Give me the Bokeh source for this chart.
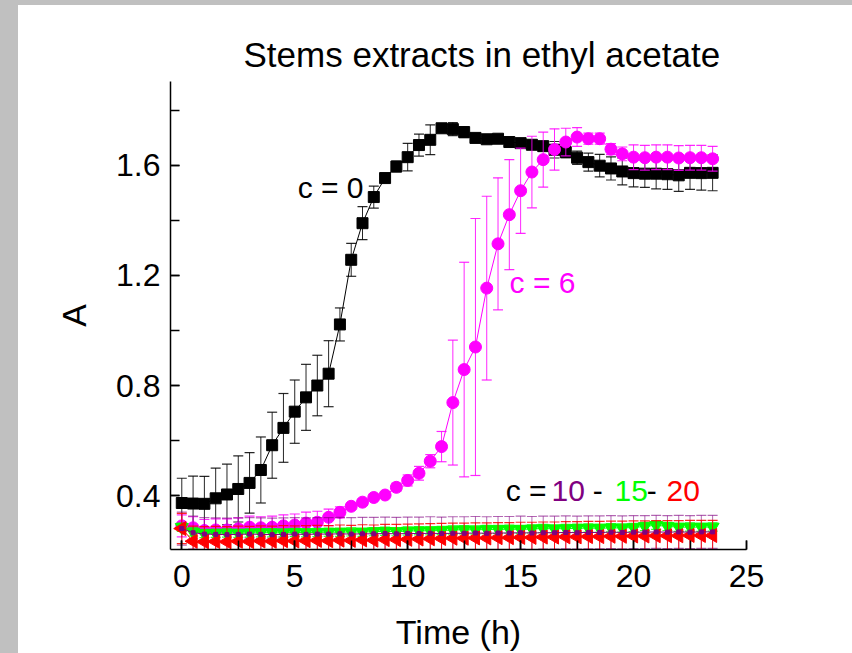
import numpy as np
from bokeh.plotting import figure
from bokeh.models import Range1d, SingleIntervalTicker, Label, Div
from bokeh.layouts import row, column
from bokeh.embed import file_html
from bokeh.resources import INLINE

time_h = [0, 0.5, 1, 1.5, 2, 2.5, 3, 3.5, 4, 4.5, 5, 5.5, 6, 6.5, 7, 7.5, 8, 8.5,
          9, 9.5, 10, 10.5, 11, 11.5, 12, 12.5, 13, 13.5, 14, 14.5, 15, 15.5, 16,
          16.5, 17, 17.5, 18, 18.5, 19, 19.5, 20, 20.5, 21, 21.5, 22, 22.5, 23, 23.5]

c0 = [0.373, 0.371, 0.370, 0.390, 0.404, 0.424, 0.446, 0.493, 0.583, 0.646, 0.705, 0.757,
      0.800, 0.843, 1.022, 1.257, 1.390, 1.485, 1.554, 1.596, 1.630, 1.674, 1.693, 1.735,
      1.732, 1.721, 1.700, 1.695, 1.697, 1.685, 1.681, 1.675, 1.670, 1.657, 1.648, 1.628,
      1.612, 1.599, 1.589, 1.578, 1.572, 1.570, 1.570, 1.568, 1.564, 1.573, 1.572, 1.573]
c0_err = [0.09, 0.10, 0.10, 0.11, 0.11, 0.12, 0.11, 0.12, 0.12, 0.125, 0.115, 0.12,
          0.11, 0.12, 0.06, 0.06, 0.06, 0.04, 0.01, 0.02, 0.05, 0.04, 0.054, 0.01,
          0.024, 0.02, 0.01, 0.01, 0.01, 0.01, 0.012, 0.01, 0.01, 0.03, 0.02, 0.024,
          0.033, 0.041, 0.042, 0.049, 0.05, 0.05, 0.055, 0.055, 0.058, 0.06, 0.062, 0.065]

c6 = [0.290, 0.283, 0.273, 0.275, 0.275, 0.279, 0.285, 0.283, 0.285, 0.290, 0.293, 0.300,
      0.303, 0.321, 0.339, 0.361, 0.376, 0.393, 0.402, 0.430, 0.455, 0.481, 0.525, 0.578,
      0.738, 0.858, 0.940, 1.154, 1.315, 1.421, 1.508, 1.576, 1.621, 1.658, 1.685, 1.703,
      1.697, 1.697, 1.659, 1.642, 1.630, 1.628, 1.630, 1.630, 1.627, 1.628, 1.628, 1.624]
c6_err = [0.04, 0.04, 0.04, 0.04, 0.04, 0.04, 0.04, 0.04, 0.04, 0.04, 0.04, 0.04,
          0.04, 0.03, 0.02, 0.01, 0.01, 0.01, 0.01, 0.015, 0.02, 0.025, 0.024, 0.055,
          0.227, 0.39, 0.467, 0.334, 0.24, 0.2, 0.155, 0.13, 0.1, 0.075, 0.05, 0.034,
          0.02, 0.02, 0.02, 0.025, 0.045, 0.045, 0.045, 0.045, 0.045, 0.045, 0.045, 0.045]

c10 = [0.280, 0.265, 0.260, 0.259, 0.258, 0.259, 0.260, 0.259, 0.258, 0.259, 0.260, 0.259,
       0.260, 0.260, 0.261, 0.260, 0.261, 0.261, 0.262, 0.261, 0.262, 0.262, 0.263, 0.262,
       0.263, 0.263, 0.264, 0.263, 0.264, 0.264, 0.265, 0.264, 0.265, 0.265, 0.266, 0.265,
       0.266, 0.266, 0.267, 0.266, 0.267, 0.267, 0.268, 0.267, 0.268, 0.267, 0.268, 0.268]
c10_err = [0.06] * 48

c15 = [0.285, 0.268, 0.262, 0.263, 0.264, 0.263, 0.264, 0.265, 0.265, 0.264, 0.266, 0.265,
       0.266, 0.267, 0.267, 0.268, 0.267, 0.269, 0.270, 0.269, 0.271, 0.272, 0.272, 0.273,
       0.275, 0.276, 0.275, 0.277, 0.277, 0.278, 0.277, 0.279, 0.280, 0.279, 0.280, 0.281,
       0.282, 0.281, 0.283, 0.282, 0.284, 0.288, 0.292, 0.288, 0.285, 0.286, 0.285, 0.286]
c15_err = [0.015] * 48

c20 = [0.280, 0.234, 0.232, 0.233, 0.232, 0.234, 0.233, 0.235, 0.234, 0.236, 0.235, 0.236,
       0.237, 0.236, 0.238, 0.237, 0.239, 0.238, 0.240, 0.240, 0.241, 0.242, 0.243, 0.244,
       0.245, 0.245, 0.246, 0.246, 0.247, 0.247, 0.248, 0.248, 0.249, 0.249, 0.250, 0.250,
       0.251, 0.251, 0.252, 0.252, 0.253, 0.253, 0.254, 0.254, 0.254, 0.255, 0.255, 0.255]
c20_err = [0.055] * 48

TITLE = "Stems extracts in ethyl acetate"
X_LABEL = "Time (h)"
Y_LABEL = "A"

FONT = "Liberation Sans"

p = figure(width=834, height=648, x_range=Range1d(-0.5, 25), y_range=Range1d(0.204, 1.905),
           output_backend="svg", toolbar_location=None,
           min_border_left=152, min_border_right=106, min_border_top=76, min_border_bottom=104)
p.background_fill_color = "white"
p.border_fill_color = "white"
p.outline_line_color = None
p.grid.visible = False

p.title.text = TITLE
p.title.text_font = FONT
p.title.text_font_size = "35px"
p.title.text_font_style = "normal"
p.title.text_color = "black"
p.title.align = "left"
p.title.offset = 73
p.title.standoff = 16

for ax in (p.xaxis[0], p.yaxis[0]):
    ax.axis_line_width = 1.5
    ax.axis_line_color = "black"
    ax.major_tick_in = 9
    ax.major_tick_out = 0
    ax.minor_tick_in = 9
    ax.minor_tick_out = 0
    ax.major_tick_line_width = 1.5
    ax.minor_tick_line_width = 1.5
    ax.major_tick_line_color = "black"
    ax.minor_tick_line_color = "black"
    ax.major_label_text_font = FONT
    ax.major_label_text_font_size = "32px"
    ax.major_label_text_color = "black"
    ax.axis_label_text_font = FONT
    ax.axis_label_text_font_size = "34px"
    ax.axis_label_text_font_style = "normal"
    ax.axis_label_text_color = "black"

p.xaxis.ticker = SingleIntervalTicker(interval=5, num_minor_ticks=2)
p.yaxis.ticker = SingleIntervalTicker(interval=0.4, num_minor_ticks=2)
p.xaxis.axis_label = X_LABEL
p.yaxis.axis_label = Y_LABEL
p.xaxis.major_label_standoff = 15
p.xaxis.axis_label_standoff = 23
p.yaxis.major_label_standoff = 10
p.yaxis.axis_label_standoff = 20

t = np.array(time_h)


def errbars(y, e, color, alpha=1.0, cap=10):
    y = np.array(y)
    e = np.array(e)
    p.segment(t, y - e, t, y + e, line_color=color, line_width=1, line_alpha=alpha)
    p.scatter(t, y - e, marker="dash", size=cap, line_color=color, line_width=1.2, line_alpha=alpha)
    p.scatter(t, y + e, marker="dash", size=cap, line_color=color, line_width=1.2, line_alpha=alpha)


# c = 0 (black squares)
errbars(c0, c0_err, "black", 0.85)
p.line(t, c0, line_color="black", line_width=1)
p.scatter(t, c0, marker="square", size=11, fill_color="black", line_color="black")

# c = 6 (magenta circles)
errbars(c6, c6_err, "#ff00ff", 0.85)
p.line(t, c6, line_color="#ff00ff", line_width=1)
p.scatter(t, c6, marker="circle", size=12, fill_color="#ff00ff", line_color="#ff00ff")

# c = 10 (purple)
errbars(c10, c10_err, "#800080", 0.6)
# c = 15 (green)
errbars(c15, c15_err, "#00ff00", 0.8)
p.line(t, c15, line_color="#00ff00", line_width=1)
p.scatter(t, c15, marker="inverted_triangle", size=13, fill_color="#00ff00", line_color="#00ff00")
# c = 20 (red)
errbars(c20, c20_err, "#ff0000", 0.85)
p.line(t, c20, line_color="#ff0000", line_width=1)
p.scatter(t, c20, marker="triangle", angle=np.pi / 2, size=14, fill_color="#ff0000", line_color="#ff0000")
# purple markers on top
p.line(t, c10, line_color="#800080", line_width=1)
p.scatter(t, c10, marker="square", size=4, fill_color="#800080", line_color="#800080")

ann_style = dict(text_font=FONT, text_font_size="30px", text_baseline="middle", text_align="left")
p.add_layout(Label(x=5.13, y=1.52, text="c = 0", text_color="black", **ann_style))
p.add_layout(Label(x=14.51, y=1.175, text="c = 6", text_color="#ff00ff", **ann_style))
p.add_layout(Label(x=14.34, y=0.418, text="c =", text_color="black", **ann_style))
p.add_layout(Label(x=16.37, y=0.418, text="10", text_color="#800080", **ann_style))
p.add_layout(Label(x=18.19, y=0.418, text="-", text_color="black", **ann_style))
p.add_layout(Label(x=19.16, y=0.418, text="15", text_color="#00ff00", **ann_style))
p.add_layout(Label(x=20.58, y=0.418, text="-", text_color="black", **ann_style))
p.add_layout(Label(x=21.46, y=0.418, text="20", text_color="#ff0000", **ann_style))

top_strip = Div(text="", width=852, height=5, margin=0,
                styles={"background-color": "#c0c0c0"})
left_strip = Div(text="", width=18, height=648, margin=0,
                 styles={"background-color": "#c0c0c0"})
layout = column(top_strip, row(left_strip, p, spacing=0, margin=0), spacing=0, margin=0)

open("out.html", "w").write(file_html(layout, INLINE))
